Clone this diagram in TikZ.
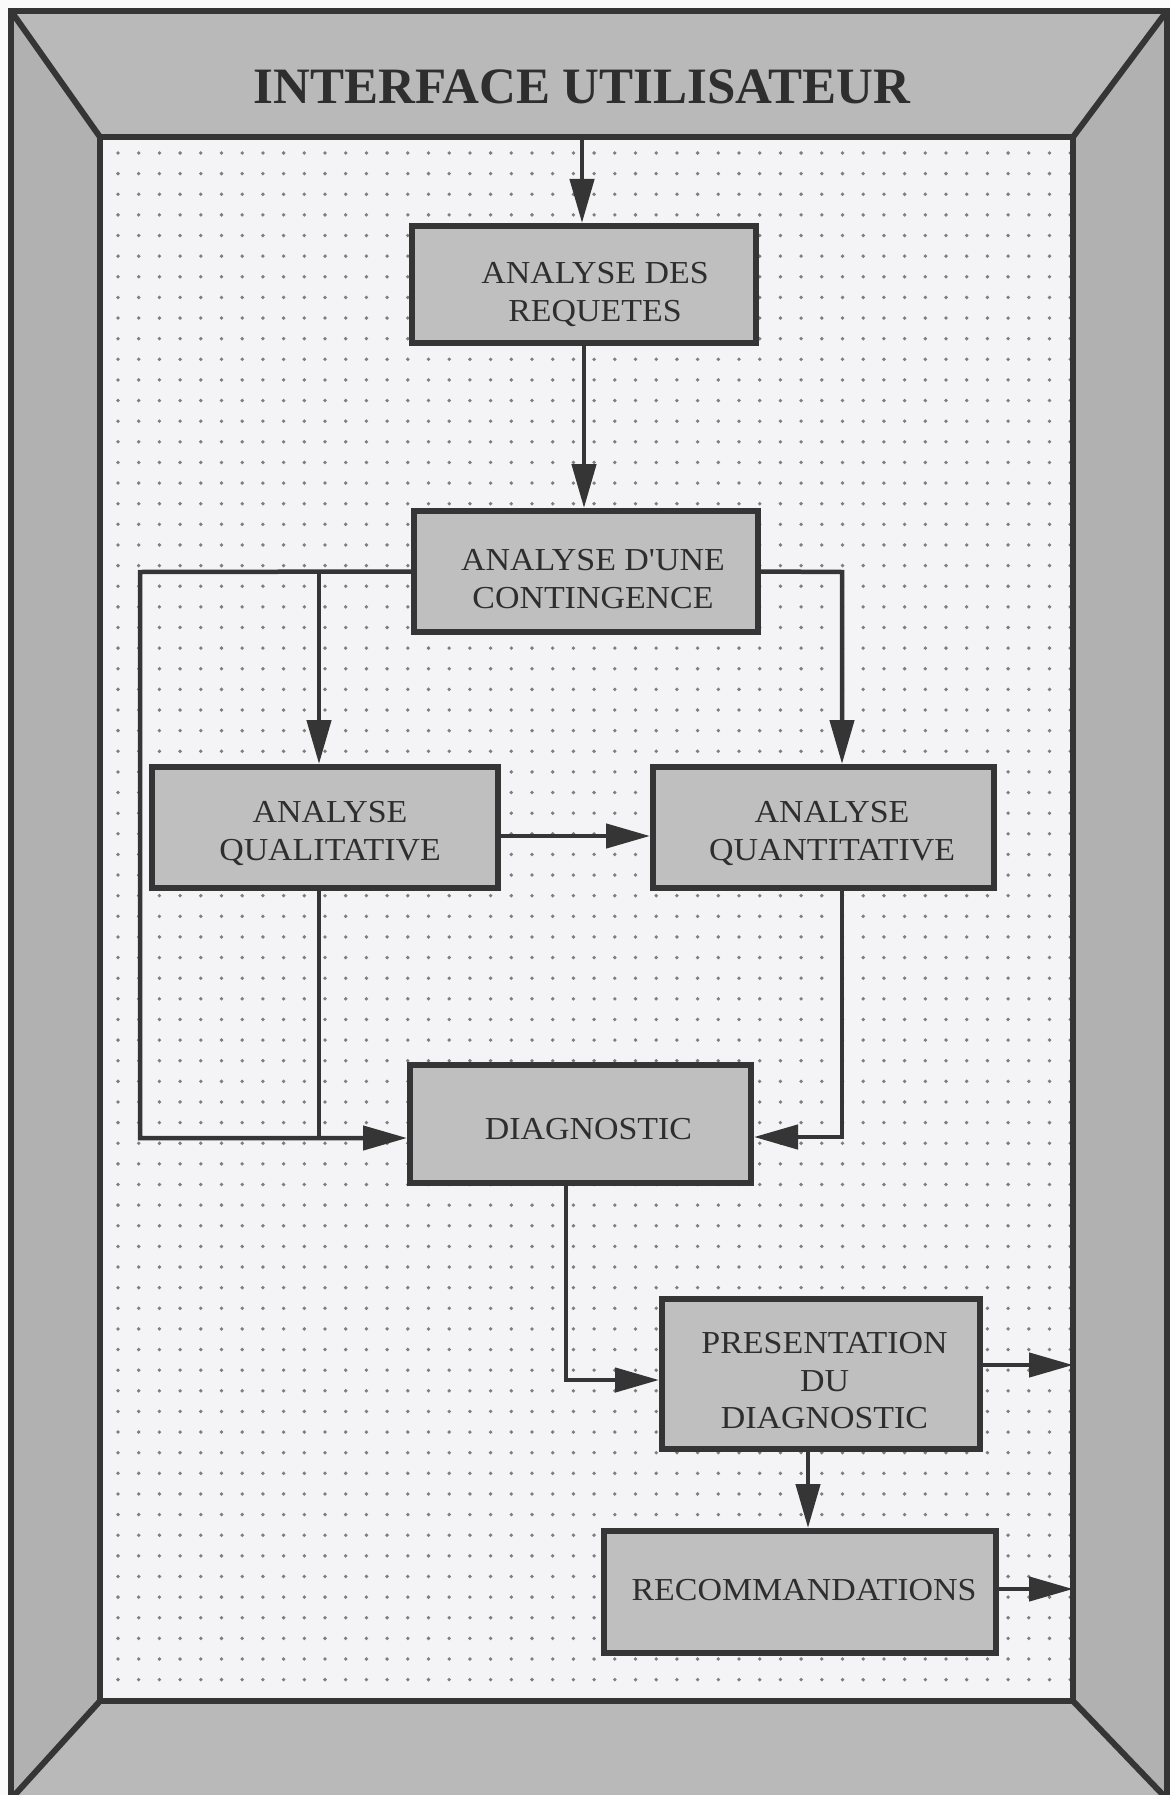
\documentclass[tikz,border=0pt]{standalone}
\usepackage{fontspec}
\setmainfont{Liberation Serif}[Ligatures=TeXOff]
\newfontfamily\boxfont{Liberation Serif}[Ligatures=TeXOff, FakeStretch=1.06]
\usetikzlibrary{arrows.meta}

\definecolor{paper}{HTML}{FAFAFA}
\definecolor{inner}{HTML}{F4F3F6}
\definecolor{bandtop}{HTML}{B9B9B9}
\definecolor{bandside}{HTML}{B1B1B1}
\definecolor{boxfill}{HTML}{BFBFBF}
\definecolor{linec}{HTML}{353535}
\definecolor{textc}{HTML}{2E2E2E}
\definecolor{dotc}{HTML}{7E7E7E}

% box label: #1 = horizontal offset, #2 = raise of the last baseline, #3 = lines
\newcommand\btxt[3]{\makebox[0pt]{\hspace{#1}\raisebox{#2}[0pt][0pt]{%
  \begin{tabular}[b]{@{}c@{}}#3\end{tabular}}}}

\begin{document}
\begin{tikzpicture}[x=1pt,y=-1pt,
  box/.style={draw=linec, line width=6pt, fill=boxfill, inner sep=0pt,
    text=textc, font=\boxfont\fontsize{32}{37.5}\selectfont},
  link/.style={draw=linec, line width=4.5pt},
  arr/.style={link, -{Triangle[length=44pt,width=24pt]}},
  frameline/.style={draw=linec, line width=6pt, line join=miter},
]
\useasboundingbox (0,0) rectangle (1170,1795);
\fill[paper] (0,0) rectangle (1170,1795);

% outer and inner corners of the bevelled frame
\coordinate (otl) at (11,11);
\coordinate (otr) at (1167,11);
\coordinate (obr) at (1167,1799);
\coordinate (obl) at (11,1799);
\coordinate (itl) at (100,137);
\coordinate (itr) at (1073,137);
\coordinate (ibr) at (1073,1701);
\coordinate (ibl) at (100,1701);

% bevel bands
\fill[bandtop]  (otl) -- (otr) -- (itr) -- (itl) -- cycle;
\fill[bandtop]  (obl) -- (obr) -- (ibr) -- (ibl) -- cycle;
\fill[bandside] (otl) -- (itl) -- (ibl) -- (obl) -- cycle;
\fill[bandside] (otr) -- (itr) -- (ibr) -- (obr) -- cycle;

% dotted working area
\fill[inner] (itl) rectangle (ibr);
\foreach \i in {0,...,46}
  \foreach \j in {0,...,74}
    \fill[dotc] (118+20.7*\i, 153+20.63*\j) circle (1.9);

% frame outlines
\draw[frameline] (otl) rectangle (obr);
\draw[frameline] (itl) rectangle (ibr);
\draw[frameline] (otl) -- (itl);
\draw[frameline] (otr) -- (itr);
\draw[frameline] (obl) -- (ibl);
\draw[frameline] (obr) -- (ibr);

% title on the top band
\node[text=textc, font=\fontsize{51}{60}\selectfont\bfseries] (title) at (582,87)
  {INTERFACE UTILISATEUR};

% processing boxes
\node[box, minimum width=344pt, minimum height=117pt] (req)   at (584,284.5)
  {\btxt{22pt}{-36.75pt}{ANALYSE DES\\REQUETES}};
\node[box, minimum width=344pt, minimum height=121pt] (cont)  at (586,571.5)
  {\btxt{14pt}{-36.75pt}{ANALYSE D'UNE\\CONTINGENCE}};
\node[box, minimum width=346pt, minimum height=121pt] (qual)  at (325,827.5)
  {\btxt{10pt}{-32.75pt}{ANALYSE\\QUALITATIVE}};
\node[box, minimum width=341pt, minimum height=121pt] (quant) at (823.5,827.5)
  {\btxt{17pt}{-32.75pt}{ANALYSE\\QUANTITATIVE}};
\node[box, minimum width=341pt, minimum height=118pt] (diag)  at (580.5,1124)
  {\btxt{16pt}{-15pt}{DIAGNOSTIC}};
\node[box, minimum width=318pt, minimum height=150pt] (pres)  at (821,1374)
  {\btxt{7pt}{-54.5pt}{PRESENTATION\\DU\\DIAGNOSTIC}};
\node[box, minimum width=392pt, minimum height=122pt] (reco)  at (800,1592)
  {\btxt{8pt}{-8pt}{RECOMMANDATIONS}};

% routing points
\coordinate (entry) at (582,137);
\coordinate (lft)   at (140,572);
\coordinate (lfb)   at (140,1138);
\coordinate (qa)    at (319,572);
\coordinate (qab)   at (319,1138);
\coordinate (rt)    at (842,572);
\coordinate (rtb)   at (842,1137);
\coordinate (mid)   at (0,836);
\coordinate (db)    at (566,1380);
\coordinate (pr)    at (1073,1365);
\coordinate (pd)    at (808,1449);
\coordinate (rr)    at (1073,1589);

% connectors
\draw[arr] (entry) -- (entry |- req.north);
\draw[arr] (req.south) -- (req.south |- cont.north);
\draw[arr] (cont.west) -- (lft) -- (lfb) -- (lfb -| diag.west);
\draw[arr] (qa) -- (qa |- qual.north);
\draw[link] (qa |- qual.south) -- (qab);
\draw[arr] (cont.east) -- (rt) -- (rt |- quant.north);
\draw[arr] (qual.east |- mid) -- (quant.west |- mid);
\draw[arr] (rt |- quant.south) -- (rtb) -- (rtb -| diag.east);
\draw[arr] (db |- diag.south) -- (db) -- (db -| pres.west);
\draw[arr] (pres.east |- pr) -- (pr);
\draw[arr] (pd) -- (pd |- reco.north);
\draw[arr] (reco.east |- rr) -- (rr);
\end{tikzpicture}
\end{document}
